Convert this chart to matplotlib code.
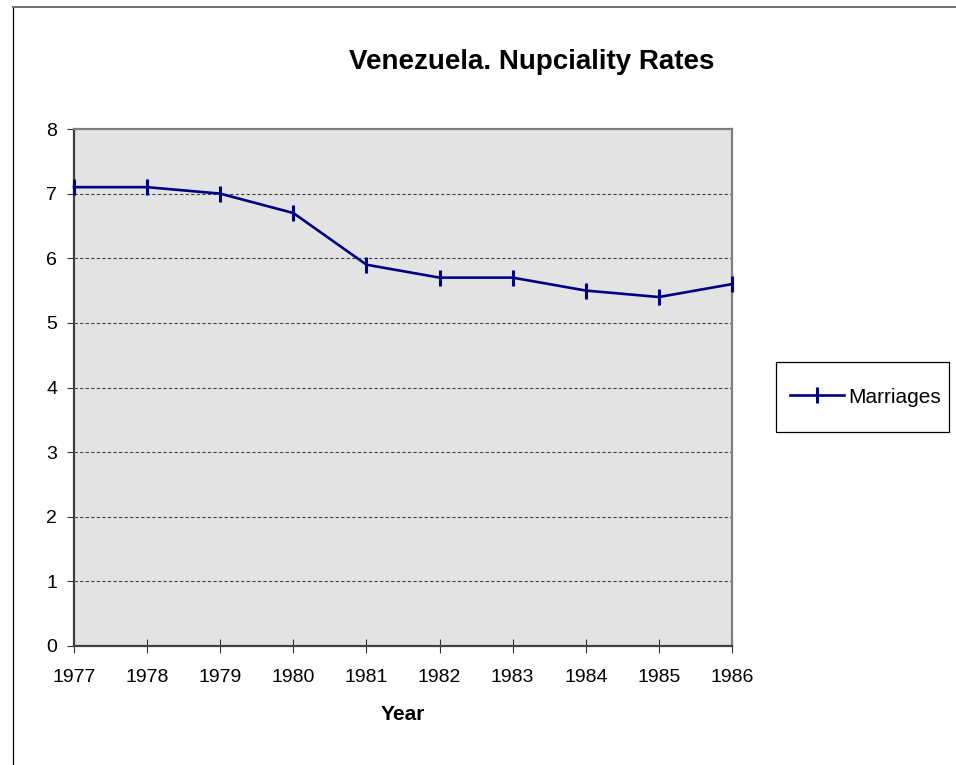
import matplotlib
matplotlib.use('Agg')
import matplotlib.pyplot as plt
from matplotlib.lines import Line2D
from matplotlib.patches import Rectangle

# Datos
years = [1977, 1978, 1979, 1980, 1981, 1982, 1983, 1984, 1985, 1986]
marriages = [7.1, 7.1, 7.0, 6.7, 5.9, 5.7, 5.7, 5.5, 5.4, 5.6]
y_ticks = [0, 1, 2, 3, 4, 5, 6, 7, 8]

plt.rcParams['font.family'] = ['Liberation Sans', 'DejaVu Sans']

W, H = 956, 765
fig = plt.figure(figsize=(W / 100, H / 100), dpi=100)

# Borde del area del grafico (solo izquierda y arriba visibles)
fig.add_artist(Line2D([12.5 / W, 12.5 / W], [0, 1 - 6.5 / H], color='black', lw=0.9))
fig.add_artist(Line2D([12.5 / W, 1], [1 - 6.5 / H, 1 - 6.5 / H], color='#707070', lw=1.4))

ax = fig.add_axes([74 / W, 1 - 646 / H, (732 - 74) / W, (646 - 129) / H])
ax.set_facecolor('#e3e3e3')

line, = ax.plot(years, marriages, color='#000080', lw=1.9, marker='|',
                markersize=11, markeredgewidth=2.2, clip_on=False, zorder=5,
                label='Marriages')

ax.set_xlim(1977, 1986)
ax.set_ylim(0, 8)
ax.set_xticks(years)
ax.set_yticks(y_ticks)
ax.tick_params(axis='x', direction='inout', length=9.5, width=0.8,
               labelsize=14, pad=12, color='#333333')
ax.tick_params(axis='y', direction='out', length=5, width=0.8,
               labelsize=14, pad=7, color='#333333')

# Lineas de cuadricula punteadas
for y in y_ticks[1:-1]:
    ax.axhline(y, color='#444444', lw=0.8, ls=(0, (3, 2)), zorder=1)

ax.spines['left'].set_color('#404040')
ax.spines['bottom'].set_color('#404040')
ax.spines['top'].set_color('#808080')
ax.spines['right'].set_color('#808080')
for s in ax.spines.values():
    s.set_linewidth(1.6)

fig.text(532 / W, 1 - 62 / H, 'Venezuela. Nupciality Rates', ha='center',
         va='center', fontsize=20, fontweight='bold')
fig.text(403 / W, 1 - 714 / H, 'Year', ha='center', va='center',
         fontsize=15, fontweight='bold')

# Leyenda con caja dibujada aparte
fig.add_artist(Rectangle((776 / W, 1 - 432 / H), (949 - 776) / W, (432 - 362) / H,
                         transform=fig.transFigure, fill=False,
                         edgecolor='black', lw=0.9))
fig.legend(handles=[line], loc='center left',
           bbox_to_anchor=(790 / W, 1 - 397 / H), frameon=False,
           fontsize=15, handlelength=2.6, handletextpad=0.2, borderpad=0,
           borderaxespad=0)

fig.savefig('out.png', dpi=100)
